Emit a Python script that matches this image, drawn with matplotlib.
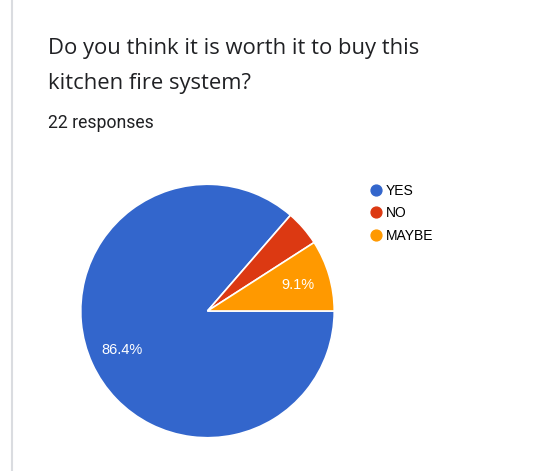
import matplotlib.pyplot as plt
from matplotlib.lines import Line2D

# survey answers (22 responses)
labels = ['YES', 'NO', 'MAYBE']
counts = [19, 1, 2]
colors = ['#3366CC', '#DC3912', '#FF9900']

title_lines = ['Do you think it is worth it to buy this', 'kitchen fire system?']
subtitle = '22 responses'

W, H = 535, 471
fig = plt.figure(figsize=(W / 100, H / 100), dpi=100)
fig.patch.set_facecolor('white')

# thin gray card border on the left
fig.add_artist(Line2D([12 / W, 12 / W], [0, 1], color='#dadce0', lw=1.5))

# title lines placed by baseline (px from top)
for line, base in zip(title_lines, [54, 89]):
    fig.text(48 / W, 1 - base / H, line, fontsize=15.8, family='Open Sans',
             color='#202124', va='baseline')
fig.text(48 / W, 1 - 128 / H, subtitle, fontsize=12.7, family='Roboto',
         color='#202124', va='baseline')

# pie: center (207, 311) px, radius 128 px
r = 128
cx, cy = 207.5, 311
ax = fig.add_axes([(cx - r) / W, (H - cy - r) / H, 2 * r / W, 2 * r / H])
wedges, texts, autotexts = ax.pie(
    counts, colors=colors, startangle=0, counterclock=False,
    autopct=lambda p: f'{p:.1f}%' if p > 5 else '',
    pctdistance=0.74,
    wedgeprops=dict(edgecolor='white', linewidth=1.2),
    textprops=dict(color='white', fontsize=10.5, family='Liberation Sans'))
ax.set_xlim(-1.01, 1.01)
ax.set_ylim(-1.01, 1.01)
ax.set_aspect('equal')
ax.axis('off')

handles = [Line2D([], [], marker='o', linestyle='', markersize=7.8,
                  markerfacecolor=c, markeredgecolor=c) for c in colors]
fig.legend(handles, labels, loc='upper left',
           bbox_to_anchor=(366 / W, 1 - 178 / H), frameon=False,
           handlelength=0.7, handletextpad=0.35, labelspacing=0.62,
           borderaxespad=0, prop=dict(family='Liberation Sans', size=10))

fig.savefig('out.png', dpi=100)
